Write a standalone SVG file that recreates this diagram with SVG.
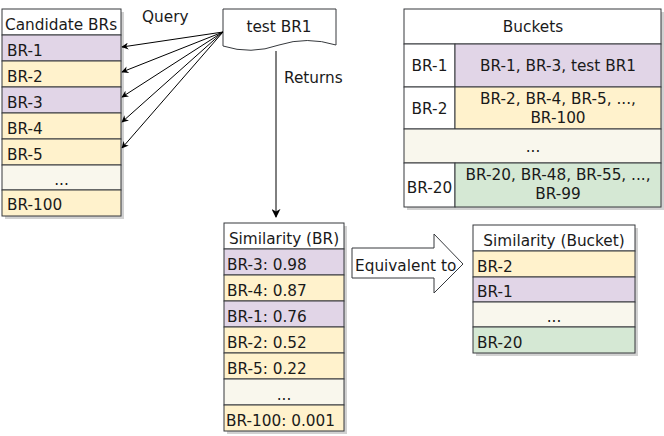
<svg xmlns="http://www.w3.org/2000/svg" width="664" height="436" viewBox="0 0 664 436">
<style>
text{font-family:"DejaVu Sans","Liberation Sans",sans-serif;font-size:15.3px;fill:#1a1a1a}
.c{text-anchor:middle}
.b{stroke:#36393d;stroke-width:1}
.w{fill:#ffffff}
.p{fill:#e1d5e7}
.y{fill:#fff2cc}
.g{fill:#f9f7ed}
.gr{fill:#d5e8d4}
.sh{fill:#000;opacity:0.18}
.ln{stroke:#000;stroke-width:1;fill:none}
</style>
<defs>
<marker id="ah" viewBox="0 0 10 10" refX="9" refY="5" markerWidth="7" markerHeight="7" markerUnits="userSpaceOnUse" orient="auto">
<path d="M0,0 L10,5 L0,10 L3,5 Z" fill="#000"/>
</marker>
<marker id="ah2" viewBox="0 0 10 10" refX="9" refY="5" markerWidth="9" markerHeight="9" markerUnits="userSpaceOnUse" orient="auto">
<path d="M0,0 L10,5 L0,10 L3,5 Z" fill="#000"/>
</marker>
</defs>
<rect width="664" height="436" fill="#fff"/>

<g id="candidate-brs">
<rect class="sh" x="5" y="12" width="119" height="207"/>
<rect class="b w" x="2" y="9" width="119" height="26"/>
<rect class="b p" x="2" y="35" width="119" height="26"/>
<rect class="b y" x="2" y="61" width="119" height="26"/>
<rect class="b p" x="2" y="87" width="119" height="26"/>
<rect class="b y" x="2" y="113" width="119" height="26"/>
<rect class="b y" x="2" y="139" width="119" height="26"/>
<rect class="b g" x="2" y="165" width="119" height="25"/>
<rect class="b y" x="2" y="190" width="119" height="26"/>
<text x="5" y="30">Candidate BRs</text>
<text x="7" y="56">BR-1</text>
<text x="7" y="82">BR-2</text>
<text x="7" y="108">BR-3</text>
<text x="7" y="134">BR-4</text>
<text x="7" y="160">BR-5</text>
<text class="c" x="61.5" y="185">...</text>
<text x="7" y="210">BR-100</text>
</g>

<g id="test-br1">
<path class="b w" d="M223,9 H336 V45 Q307,36 279,45 Q251,55 223,46 Z"/>
<text class="c" x="279" y="32">test BR1</text>
</g>

<g id="buckets">
<rect class="sh" x="407" y="12" width="257" height="198"/>
<rect class="b w" x="404" y="9" width="257" height="35"/>
<rect class="b w" x="404" y="44" width="51" height="43"/>
<rect class="b p" x="455" y="44" width="206" height="43"/>
<rect class="b w" x="404" y="87" width="51" height="42"/>
<rect class="b y" x="455" y="87" width="206" height="42"/>
<rect class="b g" x="404" y="129" width="257" height="34"/>
<rect class="b w" x="404" y="163" width="51" height="44"/>
<rect class="b gr" x="455" y="163" width="206" height="44"/>
<text class="c" x="533" y="32">Buckets</text>
<text class="c" x="429.5" y="71">BR-1</text>
<text class="c" x="558" y="71">BR-1, BR-3, test BR1</text>
<text class="c" x="429.5" y="114">BR-2</text>
<text class="c" x="558" y="104">BR-2, BR-4, BR-5, ...,</text>
<text class="c" x="558" y="123">BR-100</text>
<text class="c" x="533" y="152">...</text>
<text class="c" x="429.5" y="193">BR-20</text>
<text class="c" x="558" y="180">BR-20, BR-48, BR-55, ...,</text>
<text class="c" x="558" y="199">BR-99</text>
</g>

<g id="similarity-br">
<rect class="sh" x="227" y="226" width="120" height="208"/>
<rect class="b w" x="224" y="223" width="120" height="26"/>
<rect class="b p" x="224" y="249" width="120" height="26"/>
<rect class="b y" x="224" y="275" width="120" height="26"/>
<rect class="b p" x="224" y="301" width="120" height="26"/>
<rect class="b y" x="224" y="327" width="120" height="26"/>
<rect class="b y" x="224" y="353" width="120" height="26"/>
<rect class="b g" x="224" y="379" width="120" height="26"/>
<rect class="b y" x="224" y="405" width="120" height="26"/>
<text class="c" x="284" y="244">Similarity (BR)</text>
<text x="227" y="270">BR-3: 0.98</text>
<text x="227" y="296">BR-4: 0.87</text>
<text x="227" y="322">BR-1: 0.76</text>
<text x="227" y="348">BR-2: 0.52</text>
<text x="227" y="374">BR-5: 0.22</text>
<text class="c" x="284" y="400">...</text>
<text x="226" y="426">BR-100: 0.001</text>
</g>

<g id="equivalent-arrow">
<path class="b w" d="M352,248 H434 V234 L463,264 L434,293 V278 H352 Z"/>
<text x="355" y="271">Equivalent to</text>
</g>

<g id="similarity-bucket">
<rect class="sh" x="476" y="228" width="162" height="128"/>
<rect class="b w" x="473" y="225" width="162" height="26"/>
<rect class="b y" x="473" y="251" width="162" height="26"/>
<rect class="b p" x="473" y="277" width="162" height="25"/>
<rect class="b g" x="473" y="302" width="162" height="25"/>
<rect class="b gr" x="473" y="327" width="162" height="26"/>
<text class="c" x="554" y="246">Similarity (Bucket)</text>
<text x="477" y="272">BR-2</text>
<text x="477" y="297">BR-1</text>
<text class="c" x="554" y="322">...</text>
<text x="477" y="348">BR-20</text>
</g>

<g id="connectors">
<line class="ln" x1="223" y1="32" x2="122" y2="47" marker-end="url(#ah)"/>
<line class="ln" x1="223" y1="32" x2="122" y2="72" marker-end="url(#ah)"/>
<line class="ln" x1="223" y1="32" x2="122" y2="97" marker-end="url(#ah)"/>
<line class="ln" x1="223" y1="32" x2="122" y2="122" marker-end="url(#ah)"/>
<line class="ln" x1="223" y1="32" x2="122" y2="148" marker-end="url(#ah)"/>
<line class="ln" x1="276" y1="51" x2="276" y2="217" marker-end="url(#ah2)"/>
<text x="142" y="22">Query</text>
<text x="284" y="83">Returns</text>
</g>
</svg>
